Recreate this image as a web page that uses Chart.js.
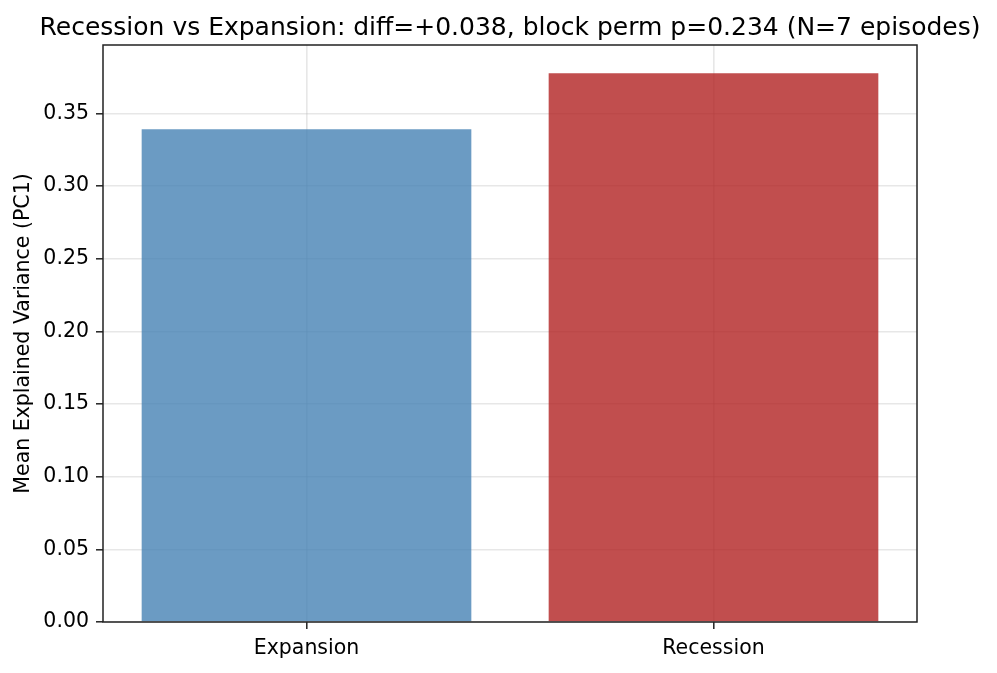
<!DOCTYPE html>
<html>
<head>
<meta charset="utf-8">
<script src="https://cdn.jsdelivr.net/npm/chart.js@4/dist/chart.umd.min.js"></script>
<style>
  html, body { margin: 0; padding: 0; background: #fff; }
  #wrap { width: 997px; height: 673px; }
</style>
</head>
<body>
<div id="wrap"><canvas id="chart"></canvas></div>
<script>
// data
const categories = ['Expansion', 'Recession'];
const meanVariance = [0.339, 0.3775];
const barColors = ['rgba(70,130,180,0.8)', 'rgba(178,34,34,0.8)'];
const yTicks = [0, 0.05, 0.10, 0.15, 0.20, 0.25, 0.30, 0.35];
const chartTitle = 'Recession vs Expansion: diff=+0.038, block perm p=0.234 (N=7 episodes)';

const font = 'DejaVu Sans';

// box around the plot area, like matplotlib spines, plus the title centred on the axes
const frame = {
    id: 'frame',
    afterDraw(chart) {
        const a = chart.chartArea;
        const ctx = chart.ctx;
        ctx.save();
        ctx.strokeStyle = '#222';
        ctx.lineWidth = 1.5;
        ctx.strokeRect(a.left, a.top, a.right - a.left, a.bottom - a.top);
        ctx.fillStyle = '#000';
        ctx.font = '25px "' + font + '"';
        ctx.textAlign = 'center';
        ctx.textBaseline = 'alphabetic';
        ctx.fillText(chartTitle, (a.left + a.right) / 2, a.top - 10);
        ctx.restore();
    }
};

new Chart(document.getElementById('chart'), {
    type: 'bar',
    data: {
        labels: categories,
        datasets: [{
            data: meanVariance,
            backgroundColor: barColors,
            borderWidth: 0,
            barPercentage: 0.81,
            categoryPercentage: 1.0
        }]
    },
    options: {
        responsive: true,
        maintainAspectRatio: false,
        animation: false,
        layout: { padding: { left: 0, right: 80, top: 45, bottom: 0 } },
        plugins: {
            legend: { display: false },
            tooltip: { enabled: false },
            title: { display: false }
        },
        scales: {
            x: {
                grid: { offset: false, color: 'rgba(176,176,176,0.3)', lineWidth: 1.6, tickColor: '#222', tickWidth: 1.5, tickLength: 7 },
                border: { display: false },
                ticks: { color: '#000', font: { family: font, size: 20.5 }, padding: 7, maxRotation: 0 },
                afterFit(s) { s.height = 51; }
            },
            y: {
                min: 0,
                max: 0.397,
                afterBuildTicks(s) { s.ticks = yTicks.map(v => ({ value: v })); },
                grid: { color: 'rgba(176,176,176,0.3)', lineWidth: 1.6, tickColor: '#222', tickWidth: 1.5, tickLength: 7 },
                border: { display: false },
                ticks: {
                    color: '#000',
                    font: { family: font, size: 20.5 },
                    padding: 7,
                    callback: v => Number(v).toFixed(2)
                },
                title: {
                    display: true,
                    text: 'Mean Explained Variance (PC1)',
                    color: '#000',
                    font: { family: font, size: 20.5 },
                    padding: { top: 11, bottom: 0 }
                },
                afterFit(s) { s.width = 103; }
            }
        }
    },
    plugins: [frame]
});
</script>
</body>
</html>
